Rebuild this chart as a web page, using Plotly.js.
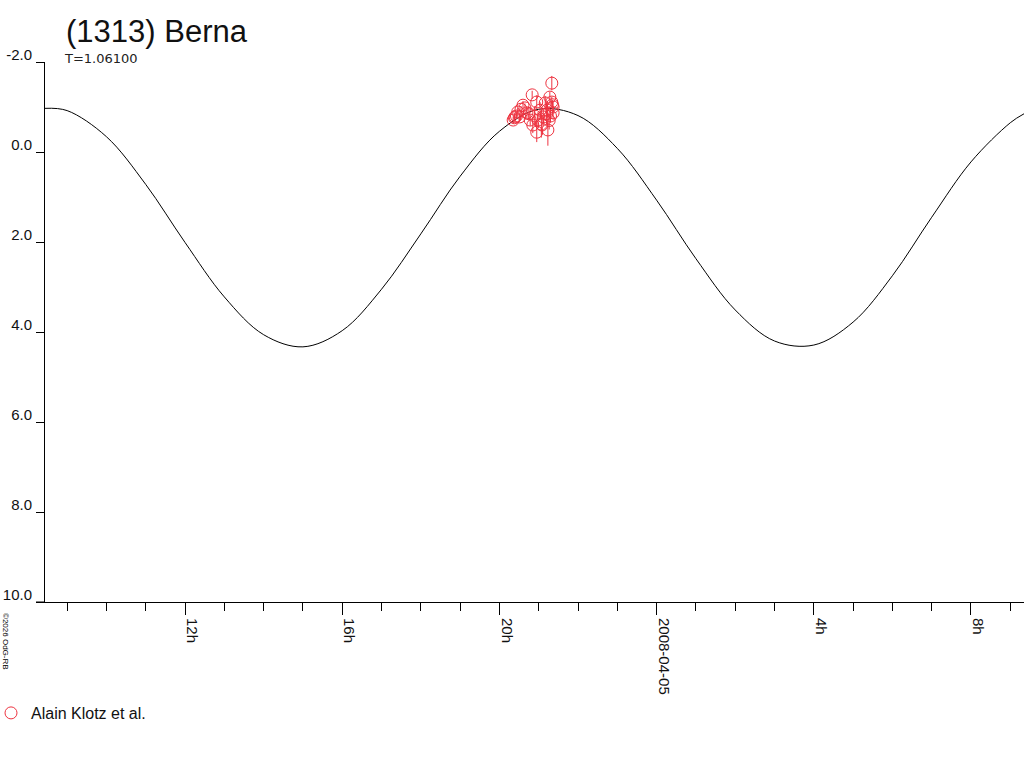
<!DOCTYPE html>
<html>
<head>
<meta charset="utf-8">
<script src="https://cdn.plot.ly/plotly-3.0.1.min.js"></script>
<style>
  html, body { margin: 0; padding: 0; background: #fff; }
  #chart { width: 1024px; height: 768px; }
</style>
</head>
<body>
<div id="chart"></div>
<script>
// ---- fitted lightcurve (hourly) ----
const curveTimes = [
  '2008-04-04 08:26', '2008-04-04 09:00', '2008-04-04 10:00', '2008-04-04 11:00',
  '2008-04-04 12:00', '2008-04-04 13:00', '2008-04-04 14:00', '2008-04-04 15:00',
  '2008-04-04 16:00', '2008-04-04 17:00', '2008-04-04 18:00', '2008-04-04 19:00',
  '2008-04-04 20:00', '2008-04-04 21:00', '2008-04-04 22:00', '2008-04-04 23:00',
  '2008-04-05 00:00', '2008-04-05 01:00', '2008-04-05 02:00', '2008-04-05 03:00',
  '2008-04-05 04:00', '2008-04-05 05:00', '2008-04-05 06:00', '2008-04-05 07:00',
  '2008-04-05 08:00', '2008-04-05 09:00', '2008-04-05 09:21'
];
const curveMag = [
  -0.97, -0.92, -0.34, 0.72,
  2.01, 3.22, 4.06, 4.33,
  3.97, 3.05, 1.82, 0.54,
  -0.46, -0.95, -0.81, -0.08,
  1.07, 2.37, 3.51, 4.20,
  4.29, 3.78, 2.75, 1.45,
  0.22, -0.65, -0.85
];

// ---- observations (Alain Klotz et al.) ----
const obsTimes = [
  '2008-04-04 20:21', '2008-04-04 20:23', '2008-04-04 20:24', '2008-04-04 20:26',
  '2008-04-04 20:28', '2008-04-04 20:31', '2008-04-04 20:33', '2008-04-04 20:36',
  '2008-04-04 20:39', '2008-04-04 20:42', '2008-04-04 20:45', '2008-04-04 20:47',
  '2008-04-04 20:50', '2008-04-04 20:51', '2008-04-04 20:54', '2008-04-04 20:57',
  '2008-04-04 20:57', '2008-04-04 20:59', '2008-04-04 21:02', '2008-04-04 21:04',
  '2008-04-04 21:05', '2008-04-04 21:07', '2008-04-04 21:10', '2008-04-04 21:12',
  '2008-04-04 21:13', '2008-04-04 21:14', '2008-04-04 21:16', '2008-04-04 21:17',
  '2008-04-04 21:18', '2008-04-04 21:20', '2008-04-04 21:20', '2008-04-04 21:22',
  '2008-04-04 21:22', '2008-04-04 21:21'
];
const obsMag = [
  -0.71, -0.76, -0.78, -0.80,
  -0.89, -0.78, -0.95, -1.04,
  -0.98, -0.87, -0.85, -0.71,
  -1.27, -0.60, -0.80, -1.11,
  -0.44, -0.71, -0.93, -0.62,
  -0.60, -0.78, -1.09, -0.85,
  -0.93, -0.49, -0.70, -1.22,
  -0.80, -1.11, -1.53, -1.00,
  -0.87, -1.05
];
const obsErr = [
  0.08, 0.07, 0.09, 0.07,
  0.09, 0.08, 0.07, 0.09,
  0.10, 0.12, 0.15, 0.13,
  0.09, 0.18, 0.22, 0.15,
  0.22, 0.18, 0.18, 0.30,
  0.22, 0.20, 0.15, 0.24,
  0.18, 0.35, 0.20, 0.12,
  0.15, 0.12, 0.16, 0.12,
  0.15, 0.10
];

// ---- axes ----
const xRange = ['2008-04-04 08:26:13', '2008-04-05 09:20:56'];
const xTickVals = ['2008-04-04 12:00', '2008-04-04 16:00', '2008-04-04 20:00',
                   '2008-04-05 00:00', '2008-04-05 04:00', '2008-04-05 08:00'];
const xTickText = ['12h', '16h', '20h', '2008-04-05', '4h', '8h'];
const yTickVals = [-2, 0, 2, 4, 6, 8, 10];
const yTickText = ['-2.0', '0.0', '2.0', '4.0', '6.0', '8.0', '10.0'];

const red = '#ee3340';
const labelFont = { family: 'Liberation Sans, Arial, sans-serif', size: 15, color: '#111' };

const traces = [
  {
    type: 'scatter',
    mode: 'lines',
    x: curveTimes,
    y: curveMag,
    line: { color: '#000', width: 1, shape: 'spline', smoothing: 1 },
    hoverinfo: 'skip',
    showlegend: false,
  },
  {
    type: 'scatter',
    mode: 'markers',
    name: 'Alain Klotz et al.',
    x: obsTimes,
    y: obsMag,
    marker: { symbol: 'circle-open', size: 12, color: red, line: { color: red, width: 1 } },
    error_y: { type: 'data', array: obsErr, visible: true, color: red, thickness: 1, width: 0 },
  },
];

const layout = {
  width: 1024,
  height: 768,
  margin: { l: 45, r: 0, t: 62, b: 166, autoexpand: false },
  paper_bgcolor: '#fff',
  plot_bgcolor: '#fff',
  font: labelFont,
  title: {
    text: '(1313) Berna',
    font: { family: 'Liberation Sans, Arial, sans-serif', size: 31, color: '#111' },
    xref: 'container', yref: 'container',
    x: 66 / 1024, xanchor: 'left',
    y: 1 - 31 / 768, yanchor: 'middle',
  },
  xaxis: {
    type: 'date',
    range: xRange,
    automargin: false,
    showgrid: false,
    zeroline: false,
    showline: true,
    linecolor: '#000',
    linewidth: 1,
    ticks: 'outside',
    ticklen: 12,
    tickcolor: '#000',
    tickmode: 'array',
    tickvals: xTickVals,
    ticktext: xTickText,
    tickangle: 90,
    ticklabelshift: 7,
    ticklabelstandoff: 0,
    tickfont: labelFont,
    minor: { tickmode: 'linear', tick0: '2008-04-04 00:00', dtick: 3600000,
             ticks: 'outside', ticklen: 8, tickcolor: '#000', showgrid: false },
    fixedrange: true,
  },
  yaxis: {
    range: [10, -2],
    automargin: false,
    showgrid: false,
    zeroline: false,
    showline: true,
    linecolor: '#000',
    linewidth: 1,
    ticks: 'outside',
    ticklen: 8,
    tickcolor: '#000',
    tickmode: 'array',
    tickvals: yTickVals,
    ticktext: yTickText,
    ticklabelshift: 7,
    ticklabelstandoff: 1,
    tickfont: labelFont,
    fixedrange: true,
  },
  showlegend: true,
  legend: {
    orientation: 'h',
    x: -54 / 979, xanchor: 'left',
    y: (602 - 713) / 540, yanchor: 'middle',
    font: { family: 'Liberation Sans, Arial, sans-serif', size: 16, color: '#111' },
    itemwidth: 30,
    bgcolor: 'rgba(0,0,0,0)',
  },
  annotations: [
    {
      text: 'T=1.06100',
      xref: 'paper', yref: 'paper',
      x: 17 / 979, xanchor: 'left',
      y: (602 - 58) / 540, yanchor: 'middle',
      showarrow: false,
      font: { family: 'DejaVu Sans, sans-serif', size: 13, color: '#222' },
    },
    {
      text: '©2026 OdG-RB',
      xref: 'paper', yref: 'paper',
      x: -39 / 979, xanchor: 'center',
      y: (602 - 641) / 540, yanchor: 'middle',
      textangle: 90,
      showarrow: false,
      font: { family: 'Liberation Sans, Arial, sans-serif', size: 8, color: '#000' },
    },
  ],
  shapes: [
    // axis line runs a little left of the y axis
    { type: 'line', xref: 'paper', yref: 'paper', x0: -9 / 979, x1: 0, y0: 0, y1: 0,
      line: { color: '#000', width: 1 } },
  ],
};

Plotly.newPlot('chart', traces, layout, { displayModeBar: false, staticPlot: true });
</script>
</body>
</html>
